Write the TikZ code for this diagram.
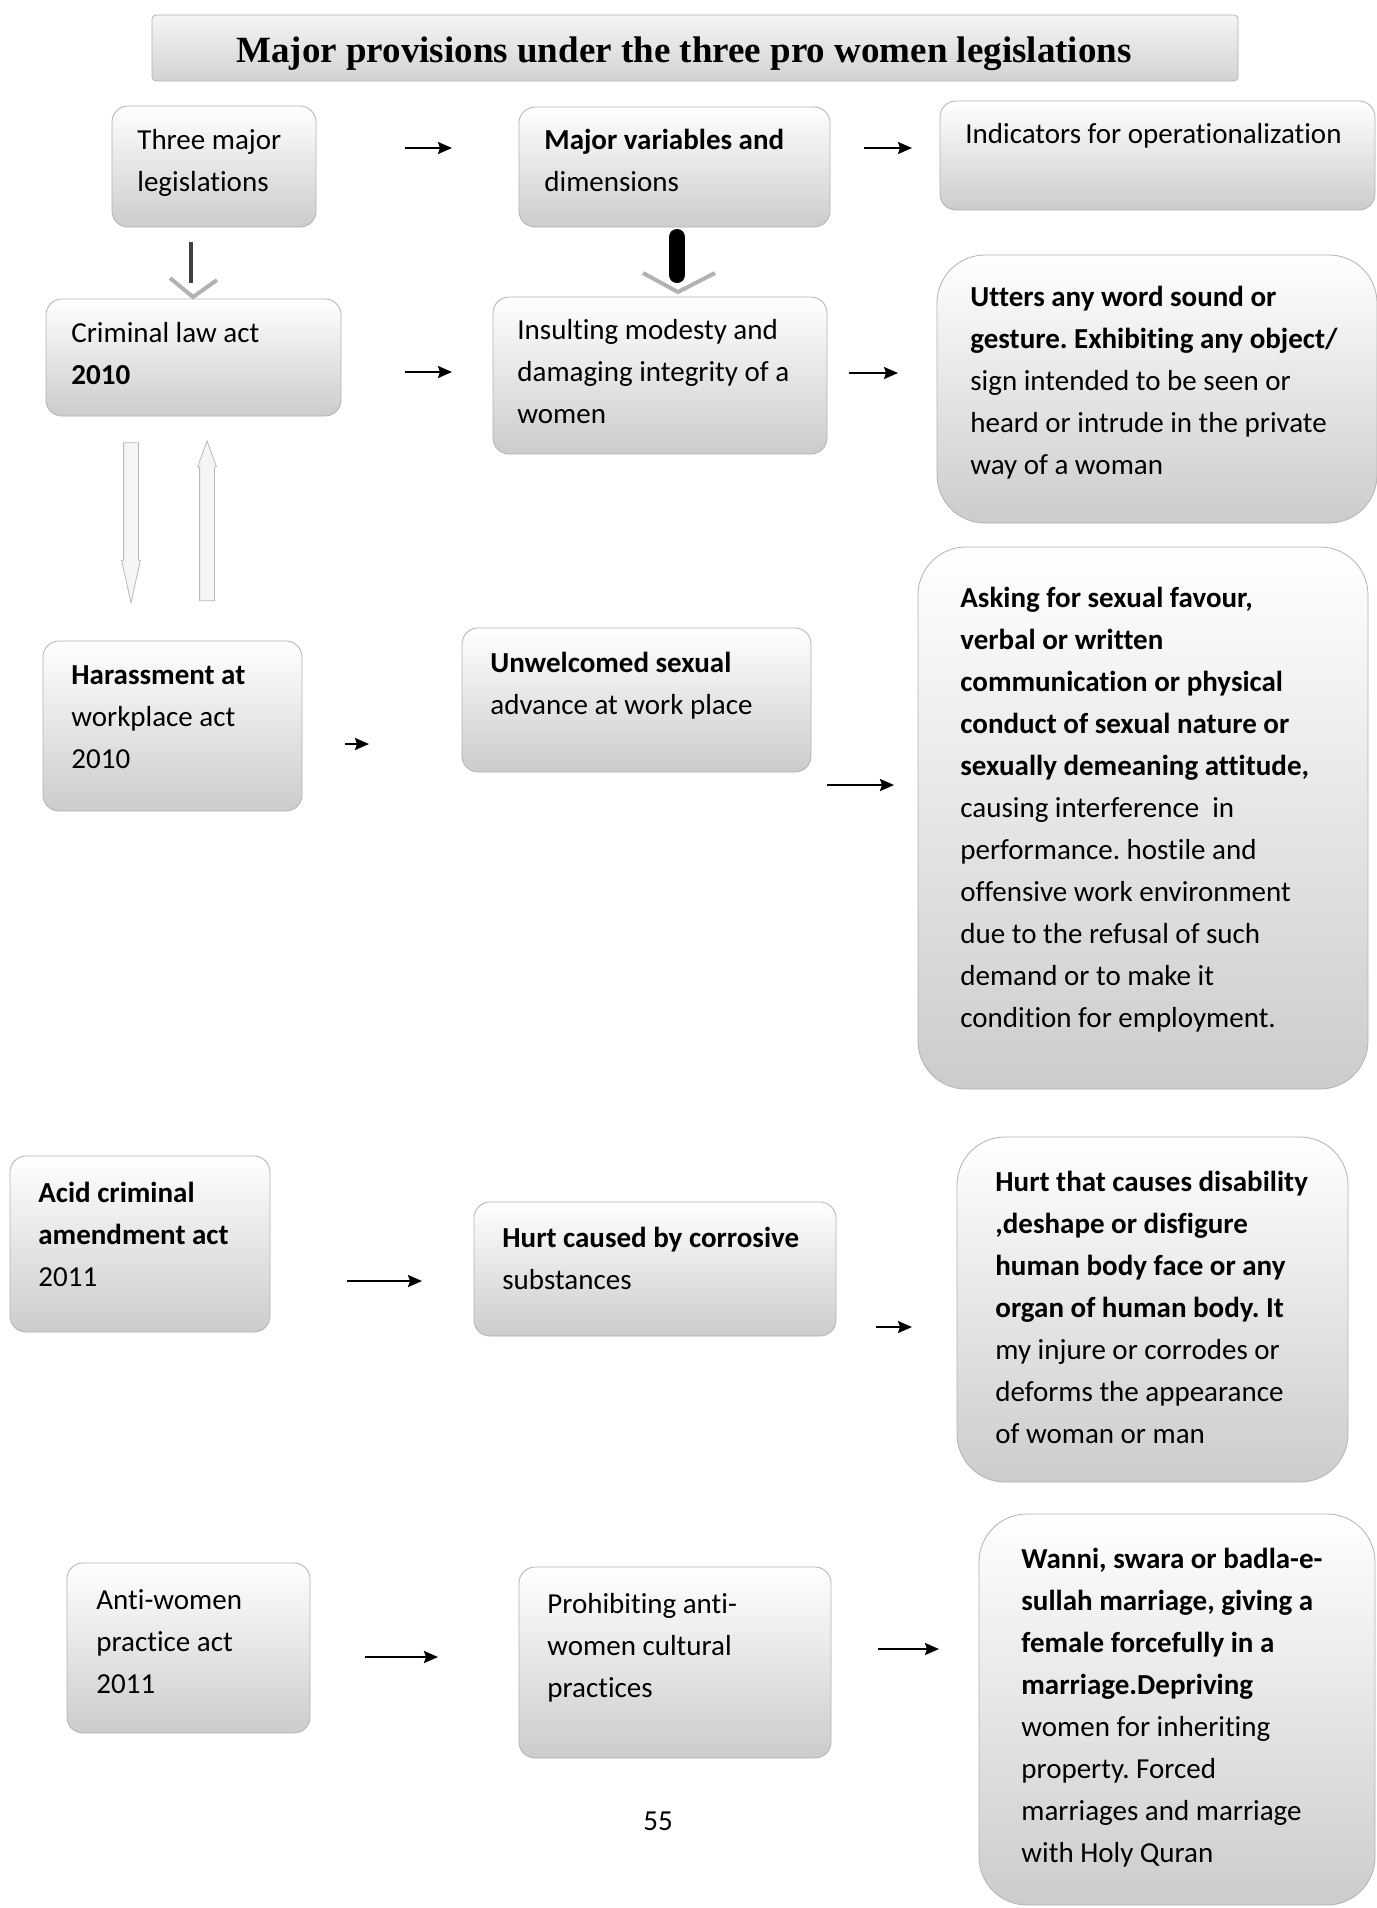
\documentclass[tikz,border=0pt]{standalone}
\usepackage{fontspec}
\setmainfont{Carlito}[Ligatures=CommonOff]
\newfontfamily\titlefont{Liberation Serif}
\usetikzlibrary{shapes.arrows, arrows.meta}
\frenchspacing

\begin{document}
\begin{tikzpicture}[
      x=0.5pt, y=-0.5pt,
      box/.style={draw=gray!60, rounded corners=8pt, top color=white, bottom color=gray!40, inner sep=0pt, outer sep=0pt},
      bigbox/.style={box, rounded corners=24pt},
      titlebox/.style={draw=gray!60, rounded corners=2pt, top color=gray!8, bottom color=gray!35, inner sep=0pt},
      boxtext/.style={font=\fontsize{14.5}{21}\selectfont, align=left, anchor=north west, inner sep=0pt},
      arrow/.style={-{Stealth[length=7pt, width=6pt, inset=1pt]}, line width=1pt},
      vhead/.style={gray!60, line width=2pt},
      blockarrow/.style={single arrow, draw=gray!55, fill=gray!8, inner sep=3.5pt, single arrow head extend=1pt, minimum height=80pt}
    ]

    % Page size
    \useasboundingbox (0,0) rectangle (1377,1908);

    % Title
    \node[titlebox, minimum width=543pt, minimum height=33pt] (titleBox) at (695,48) {};
    \node[inner sep=0pt] (titleText) at (684,54) {\titlefont\bfseries\fontsize{18.5}{22}\selectfont Major provisions under the three pro women legislations};

    % Header row
    \node[box, minimum width=102pt, minimum height=60.5pt] (threeBox) at (214,166.5) {};
    \node[boxtext] (threeText) at (137,129) {Three major\\legislations};
    \node[box, minimum width=155.5pt, minimum height=60pt] (varsBox) at (674.5,167) {};
    \node[boxtext] (varsText) at (544,129) {\textbf{Major variables and}\\dimensions};
    \node[box, minimum width=217.5pt, minimum height=54.5pt] (indicBox) at (1157.5,155.5) {};
    \node[boxtext] (indicText) at (965,123) {Indicators for operationalization};

    % Criminal law act
    \node[box, minimum width=147.5pt, minimum height=58.5pt] (crimBox) at (193.5,357.5) {};
    \node[boxtext] (crimText) at (71,322) {Criminal law act\\\textbf{2010}};
    \node[box, minimum width=167pt, minimum height=78.5pt] (insultBox) at (660,375.5) {};
    \node[boxtext] (insultText) at (517,319) {Insulting modesty and\\damaging integrity of a\\women};
    \node[bigbox, minimum width=220pt, minimum height=134pt] (uttersBox) at (1157,389) {};
    \node[boxtext] (uttersText) at (970,286) {\textbf{Utters any word sound or}\\\textbf{gesture. Exhibiting any object/}\\sign intended to be seen or\\heard or intrude in the private\\way of a woman};

    % Harassment at workplace act
    \node[box, minimum width=129.5pt, minimum height=85pt] (harassBox) at (172.5,726) {};
    \node[boxtext] (harassText) at (71,665) {\textbf{Harassment at}\\workplace act\\2010};
    \node[box, minimum width=174.5pt, minimum height=72pt] (unwelBox) at (636.5,700) {};
    \node[boxtext] (unwelText) at (490,652) {\textbf{Unwelcomed sexual}\\advance at work place};
    \node[bigbox, minimum width=225pt, minimum height=271pt] (askingBox) at (1143,818) {};
    \node[boxtext] (askingText) at (960,587) {\textbf{Asking for sexual favour,}\\\textbf{verbal or written}\\\textbf{communication or physical}\\\textbf{conduct of sexual nature or}\\\textbf{sexually demeaning attitude,}\\causing interference\ \ in\\performance. hostile and\\offensive work environment\\due to the refusal of such\\demand or to make it\\condition for employment.};

    % Acid criminal amendment act
    \node[box, minimum width=130pt, minimum height=88pt] (acidBox) at (140,1244) {};
    \node[boxtext] (acidText) at (38,1182) {\textbf{Acid criminal}\\\textbf{amendment act}\\2011};
    \node[box, minimum width=181pt, minimum height=67pt] (corrBox) at (655,1269) {};
    \node[boxtext] (corrText) at (502,1227) {\textbf{Hurt caused by corrosive}\\substances};
    \node[bigbox, minimum width=195.5pt, minimum height=172.5pt] (hurtBox) at (1152.5,1309.5) {};
    \node[boxtext] (hurtText) at (995,1171) {\textbf{Hurt that causes disability}\\\textbf{,deshape or disfigure}\\\textbf{human body face or any}\\\textbf{organ of human body. It}\\my injure or corrodes or\\deforms the appearance\\of woman or man};

    % Anti-women practice act
    \node[box, minimum width=121.5pt, minimum height=85pt] (antiBox) at (188.5,1648) {};
    \node[boxtext] (antiText) at (96,1589) {Anti-women\\practice act\\2011};
    \node[box, minimum width=156pt, minimum height=95.5pt] (prohibBox) at (675,1662.5) {};
    \node[boxtext] (prohibText) at (547,1593) {Prohibiting anti-\\women cultural\\practices};
    \node[bigbox, minimum width=198pt, minimum height=195.5pt] (wanniBox) at (1177,1709.5) {};
    \node[boxtext] (wanniText) at (1021,1548) {\textbf{Wanni, swara or badla-e-}\\\textbf{sullah marriage, giving a}\\\textbf{female forcefully in a}\\\textbf{marriage.Depriving}\\women for inheriting\\property. Forced\\marriages and marriage\\with Holy Quran};

    % Page number
    \node[boxtext, anchor=center] (pageNum) at (658,1821) {55};

    % Arrow ends
    \coordinate (a1s) at (405,148);  \coordinate (a1e) at (452,148);
    \coordinate (a2s) at (864,148);  \coordinate (a2e) at (912,148);
    \coordinate (a3s) at (405,372);  \coordinate (a3e) at (452,372);
    \coordinate (a4s) at (849,373);  \coordinate (a4e) at (898,373);
    \coordinate (a5s) at (345,744);  \coordinate (a5e) at (369,744);
    \coordinate (a6s) at (827,785);  \coordinate (a6e) at (894,785);
    \coordinate (a7s) at (347,1281); \coordinate (a7e) at (422,1281);
    \coordinate (a8s) at (876,1327); \coordinate (a8e) at (912,1327);
    \coordinate (a9s) at (365,1657); \coordinate (a9e) at (438,1657);
    \coordinate (a10s) at (878,1649); \coordinate (a10e) at (939,1649);

    % Draw horizontal arrows
    \draw[arrow] (a1s) -- (a1e);
    \draw[arrow] (a2s) -- (a2e);
    \draw[arrow] (a3s) -- (a3e);
    \draw[arrow] (a4s) -- (a4e);
    \draw[arrow] (a5s) -- (a5e);
    \draw[arrow] (a6s) -- (a6e);
    \draw[arrow] (a7s) -- (a7e);
    \draw[arrow] (a8s) -- (a8e);
    \draw[arrow] (a9s) -- (a9e);
    \draw[arrow] (a10s) -- (a10e);

    % Down arrows under the header row
    \coordinate (d1s) at (191,242);
    \coordinate (d1e) at (191,283);
    \coordinate (d1tip) at (193,297);
    \draw[line width=2pt, gray!50!black] (d1s) -- (d1e);
    \draw[vhead] (d1tip) ++(-23,-19) -- (d1tip) -- ++(24,-17);

    \coordinate (d2s) at (677,237);
    \coordinate (d2e) at (677,275);
    \coordinate (d2tip) at (678,292);
    \draw[line width=8pt, line cap=round, black] (d2s) -- (d2e);
    \draw[vhead] (d2tip) ++(-35,-19) -- (d2tip) -- ++(37,-19);

    % Block arrows between criminal law and harassment acts
    \node[blockarrow, rotate=-90, single arrow tip angle=25] (downArrow) at (131,506) {};
    \node[blockarrow, rotate=90, single arrow tip angle=40] (upArrow) at (207,531) {};

\end{tikzpicture}
\end{document}
